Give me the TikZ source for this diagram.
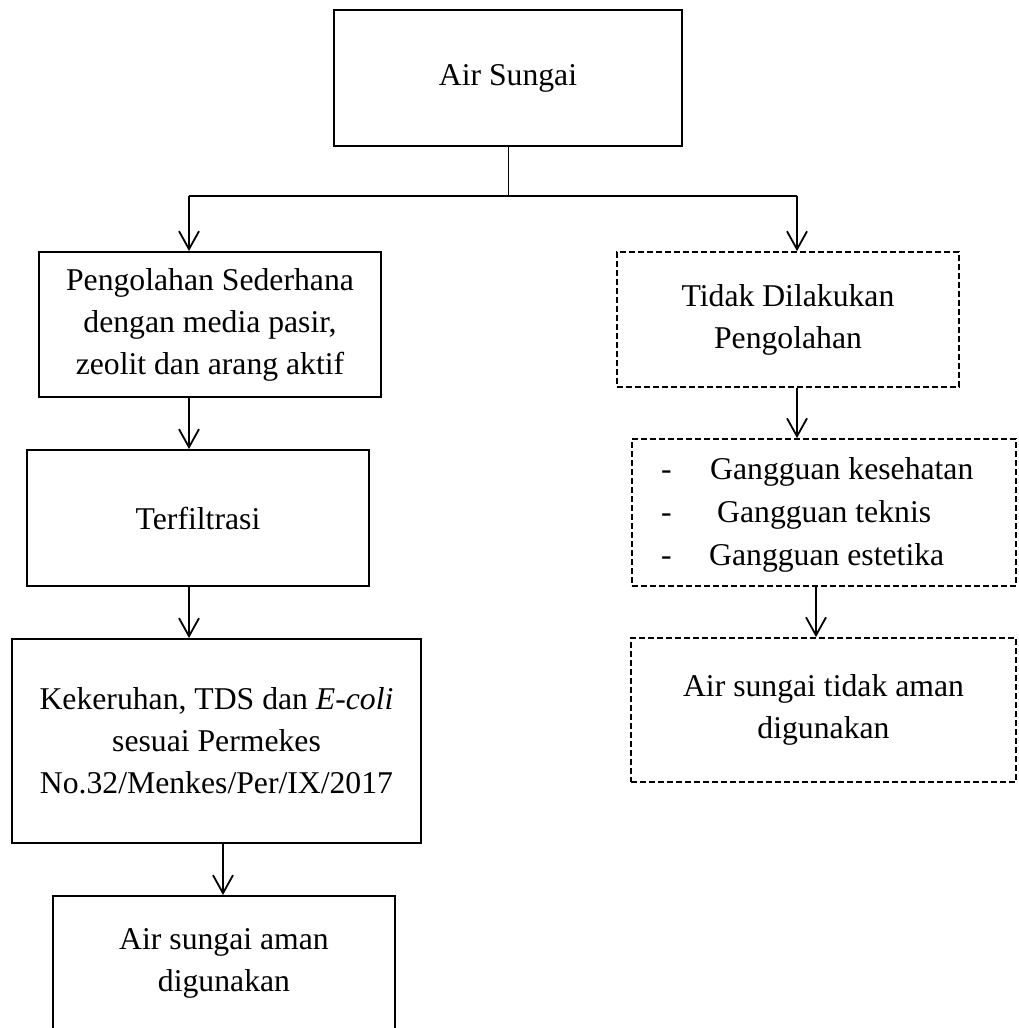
\documentclass[tikz,border=0pt]{standalone}
\usepackage{fontspec}
\setmainfont{Liberation Serif}
\usetikzlibrary{arrows.meta}
\begin{document}
\begin{tikzpicture}[x=1pt,y=-1pt,
  every node/.style={font=\fontsize{31.7}{42}\selectfont},
  solidbox/.style={draw, line width=2pt, rectangle, inner sep=0pt, align=center},
  dashbox/.style={draw, line width=1.7pt, dash pattern=on 6pt off 3pt, rectangle, inner sep=0pt, align=center},
  plain/.style={inner sep=0pt, anchor=base west},
  conn/.style={line width=1.8pt, -{Straight Barb[length=18pt,width=20pt,line width=1.8pt]}},
]
\useasboundingbox (0,0) rectangle (1018,1028);
\clip (0,0) rectangle (1018,1028);
\fill[white] (0,0) rectangle (1018,1028);

% left column
\node[solidbox, minimum width=348pt, minimum height=136pt] (air) at (508,78) {Air Sungai};
\node[solidbox, minimum width=342pt, minimum height=145pt] (pen) at (210,324.5)
  {Pengolahan Sederhana\\dengan media pasir,\\zeolit dan arang aktif};
\node[solidbox, minimum width=342pt, minimum height=136pt] (ter) at (198,518) {Terfiltrasi};
\node[solidbox, minimum width=409pt, minimum height=204pt] (kek) at (216.5,741)
  {Kekeruhan, TDS dan \textit{E-coli}\\sesuai Permekes\\No.32/Menkes/Per/IX/2017};
\node[solidbox, minimum width=342pt, minimum height=134pt] (aman) at (224,963)
  {Air sungai aman\\digunakan};

% right column
\node[dashbox, minimum width=342pt, minimum height=135pt] (tidak) at (788,319.5)
  {Tidak Dilakukan\\Pengolahan};
\node[dashbox, minimum width=384pt, minimum height=147pt] (gang) at (824,512.5) {};
\node[plain] (d1) at (661,479) {-};
\node[plain] (g1) at (710,479) {Gangguan kesehatan};
\node[plain] (d2) at (661,522) {-};
\node[plain] (g2) at (717,522) {Gangguan teknis};
\node[plain] (d3) at (661,565) {-};
\node[plain] (g3) at (709,565) {Gangguan estetika};
\node[dashbox, minimum width=385pt, minimum height=144pt] (tam) at (823.5,710)
  {Air sungai tidak aman\\digunakan};

% junction coordinates
\coordinate (j) at (508,196);
\coordinate (jl) at (189,196);
\coordinate (jr) at (797,196);
\coordinate (ka) at (223,0);
\coordinate (gt) at (816,0);

\draw[line width=1pt] (air.south) -- (j);
\draw[line width=1.8pt] (jl) -- (jr);
\draw[conn] (jl) -- (jl |- pen.north);
\draw[conn] (jr) -- (jr |- tidak.north);
\draw[conn] (jl |- pen.south) -- (jl |- ter.north);
\draw[conn] (jl |- ter.south) -- (jl |- kek.north);
\draw[conn] (ka |- kek.south) -- (ka |- aman.north);
\draw[conn] (jr |- tidak.south) -- (jr |- gang.north);
\draw[conn] (gt |- gang.south) -- (gt |- tam.north);
\end{tikzpicture}
\end{document}
